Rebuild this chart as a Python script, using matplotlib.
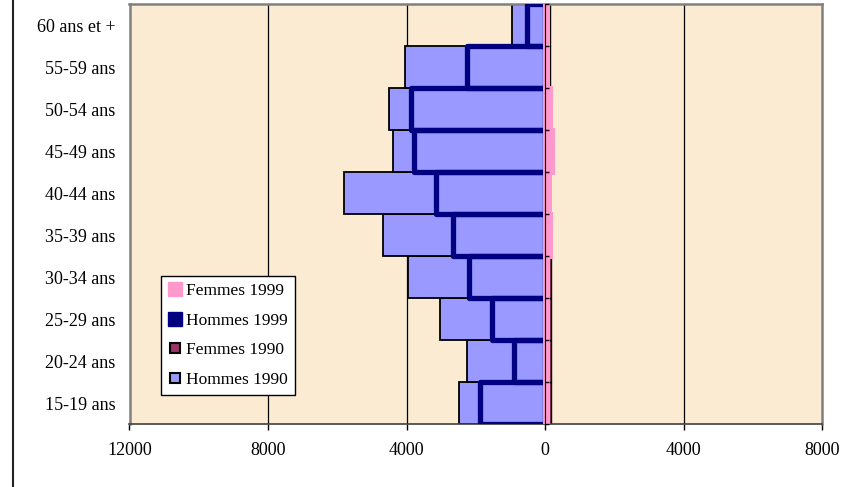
import numpy as np
import matplotlib
matplotlib.use("Agg")
import matplotlib.pyplot as plt
from matplotlib.lines import Line2D

plt.rcParams['font.family'] = ['Liberation Serif', 'DejaVu Serif']

categories = ["15-19 ans", "20-24 ans", "25-29 ans", "30-34 ans", "35-39 ans",
              "40-44 ans", "45-49 ans", "50-54 ans", "55-59 ans", "60 ans et +"]
hommes_1990 = [-2480, -2250, -3020, -3960, -4680, -5800, -4380, -4500, -4030, -960]
hommes_1999 = [-1880, -890, -1530, -2190, -2670, -3150, -3790, -3880, -2240, -520]
femmes_1990 = [160, 160, 160, 160, 150, 150, 150, 150, 150, 150]
femmes_1999 = [60, 60, 60, 60, 150, 100, 210, 150, 60, 60]
xticks = [-12000, -8000, -4000, 0, 4000, 8000]
xticklabels = ["12000", "8000", "4000", "0", "4000", "8000"]

c_h90 = "#9999FF"
c_f90 = "#993366"
c_h99 = "#000080"
c_f99 = "#FF99CC"

fig = plt.figure(figsize=(8.43, 4.87), dpi=100)
fig.patch.set_facecolor("white")
ax = fig.add_axes([129.5/843, 1-424/487, (822-129.5)/843, (424-4)/487])
ax.set_facecolor("#FAEBD2")

y = np.arange(len(categories))
ax.barh(y, hommes_1990, height=1.0, color=c_h90, edgecolor="black", linewidth=1.3, zorder=2)
ax.barh(y, femmes_1990, height=1.0, color=c_f90, edgecolor="black", linewidth=1.0, zorder=2.1)
ax.barh(y, hommes_1999, height=1.0, facecolor="none", edgecolor=c_h99, linewidth=3.8, zorder=3,
        joinstyle="round")
ax.barh(y, femmes_1999, height=1.0, color=c_f99, edgecolor=c_f99, linewidth=3.6, zorder=3.1)

xmin, xmax = -12000, 8000
ax.set_xlim(xmin, xmax)
ax.set_ylim(-0.5, len(categories) - 0.5)

ax.set_xticks(xticks)
ax.set_xticklabels(xticklabels, fontsize=13)
ax.tick_params(axis="x", direction="out", length=4, width=1, pad=9, color="black")
ax.set_yticks(y)
ax.set_yticklabels(categories, fontsize=13)
ax.tick_params(axis="y", length=0, pad=10)

for gx in [-8000, -4000, 4000]:
    ax.axvline(gx, color="black", linewidth=0.9, zorder=1)

for s in ["top", "right", "left"]:
    ax.spines[s].set_color("#808080")
    ax.spines[s].set_linewidth(1.8)
ax.spines["bottom"].set_color("#404040")
ax.spines["bottom"].set_linewidth(1.2)

# category axis crossing at 0
loc = (0 - xmin) / (xmax - xmin)
sec = ax.secondary_yaxis(loc)
sec.set_yticks(np.arange(-0.5, len(categories), 1.0))
sec.set_yticklabels([])
sec.tick_params(direction="out", length=3, width=1, color="black")
sec.spines["left"].set_color("black")
sec.spines["left"].set_linewidth(1.2)
sec.set_zorder(6)

handles = [
    Line2D([], [], ls="none", marker="s", markersize=10, markerfacecolor=c_f99, markeredgecolor=c_f99),
    Line2D([], [], ls="none", marker="s", markersize=10, markerfacecolor=c_h99, markeredgecolor=c_h99),
    Line2D([], [], ls="none", marker="s", markersize=7, markerfacecolor=c_f90, markeredgecolor="black", markeredgewidth=1.5),
    Line2D([], [], ls="none", marker="s", markersize=7, markerfacecolor=c_h90, markeredgecolor="black", markeredgewidth=1.5),
]
labels = ["Femmes 1999", "Hommes 1999", "Femmes 1990", "Hommes 1990"]
leg = ax.legend(handles, labels, loc="lower left",
                bbox_to_anchor=((160.7-129.5)/692.5, (424-395)/420),
                borderaxespad=0, fontsize=12.5, frameon=True, fancybox=False,
                edgecolor="black", facecolor="white", framealpha=1,
                handlelength=0.8, handletextpad=0.25, labelspacing=0.78,
                borderpad=0.4)
leg.get_frame().set_linewidth(1.0)
leg.set_zorder(10)

fig.add_artist(Line2D([13/843, 13/843], [0, 1], transform=fig.transFigure, color="#202020", linewidth=1.5))

fig.savefig("out.png", dpi=100)
